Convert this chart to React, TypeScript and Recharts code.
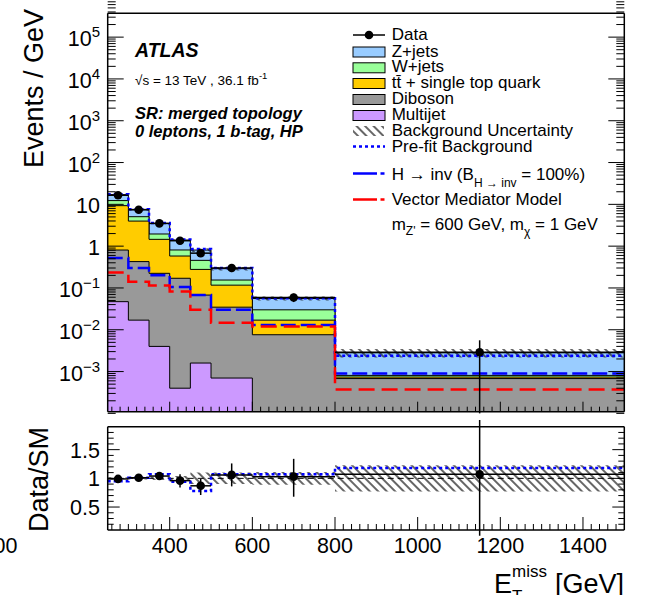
import React from 'react';
import { ComposedChart, Area, Line, Scatter, ErrorBar, XAxis, YAxis, ReferenceLine } from 'recharts';

const FONT = '"Liberation Sans", Arial, Helvetica, sans-serif';

// bin edges (GeV)
const edges = [250, 300, 350, 400, 450, 500, 600, 800, 1500];

// post-fit backgrounds, events / GeV
const multijet = [0.047, 0.017, 0.004, 0.0004, 0.0016, 0.0007, 0, 0];
const diboson = [0.76, 0.41, 0.22, 0.17, 0.066, 0.034, 0.0076, 0.00068];
const ttbar = [8.5, 3.55, 1.23, 0.41, 0.21, 0.082, 0.0094, 0.00006];
const wjets = [3.0, 1.09, 0.5, 0.23, 0.18, 0.038, 0.013, 0.00007];
const zjets = [4.8, 2.53, 1.55, 0.59, 0.35, 0.135, 0.026, 0.002];

const prefit = [17.5, 7.6, 3.6, 1.45, 0.85, 0.3, 0.057, 0.0024];
const hinv = [0.52, 0.3, 0.2, 0.106, 0.068, 0.03, 0.013, 0.0009];
const vmm = [0.234, 0.14, 0.115, 0.082, 0.03, 0.0148, 0.012, 0.00037];

const data = [16.5, 7.4, 3.5, 1.35, 0.68, 0.3, 0.059, 0.0029];
const dataErrLo = [0.5, 0.3, 0.2, 0.16, 0.12, 0.06, 0.013, 0.0028];
const dataErrHi = [0.5, 0.3, 0.2, 0.15, 0.12, 0.06, 0.014, 0.0027];

// ratio panel
const ratioData = [0.99, 1.01, 1.04, 0.96, 0.87, 1.06, 1.03, 1.07];
const ratioErrLo = [0.03, 0.04, 0.05, 0.12, 0.16, 0.2, 0.35, 1.07];
const ratioErrHi = [0.03, 0.04, 0.05, 0.11, 0.12, 0.2, 0.31, 0.95];
const ratioPrefit = [0.95, 1.01, 1.07, 0.94, 0.78, 1.07, 1.07, 1.18];
const bkgUnc = [0.02, 0.02, 0.03, 0.04, 0.1, 0.1, 0.11, 0.23];

// axis ticks
const xMajor = [400, 600, 800, 1000, 1200, 1400];
const xTicks = Array.from({ length: 62 }, (_, i) => 260 + i * 20);
const yDecades = [-3, -2, -1, 0, 1, 2, 3, 4, 5];
const yMajor = yDecades.map((e) => Math.pow(10, e));
const yTicks = [-4, ...yDecades].flatMap((e) => [1, 2, 3, 4, 5, 6, 7, 8, 9].map((m) => m * Math.pow(10, e)));
const rMajor = [0.5, 1, 1.5];
const rTicks = Array.from({ length: 17 }, (_, i) => +(0.2 + i * 0.1).toFixed(1));

const yMin = Math.pow(10, -3.96);
const yMax = Math.pow(10, 5.57);
const FLOOR = 1e-8;

const C = {
  z: '#99ccff',
  w: '#99ff99',
  tt: '#ffcc00',
  db: '#999999',
  mj: '#cc99ff',
};

const nb = edges.length - 1;
const mainRows = edges.map((x, k) => {
  const i = Math.min(k, nb - 1);
  const mjTop = multijet[i];
  const dbTop = mjTop + diboson[i];
  const ttTop = dbTop + ttbar[i];
  const wTop = ttTop + wjets[i];
  const zTop = wTop + zjets[i];
  return {
    x,
    mj: mjTop > 0 ? mjTop : FLOOR,
    db: dbTop,
    tt: ttTop,
    w: wTop,
    z: zTop,
    band: [zTop * (1 - bkgUnc[i]), zTop * (1 + bkgUnc[i])],
    prefit: prefit[i],
    hinv: hinv[i],
    vmm: vmm[i],
  };
});

const centers = edges.slice(0, nb).map((e, i) => (e + edges[i + 1]) / 2);
const halfW = edges.slice(0, nb).map((e, i) => (edges[i + 1] - e) / 2);

const mainPoints = centers.map((x, i) => ({ x, y: data[i], ex: halfW[i], ey: [dataErrLo[i], dataErrHi[i]] }));

const ratioRows = edges.map((x, k) => {
  const i = Math.min(k, nb - 1);
  return { x, band: [1 - bkgUnc[i], 1 + bkgUnc[i]], prefit: ratioPrefit[i] };
});
const ratioPoints = centers.map((x, i) => ({ x, y: ratioData[i], ex: halfW[i], ey: [ratioErrLo[i], ratioErrHi[i]] }));

const near = (v: number, arr: number[]) => arr.some((m) => Math.abs(m - v) <= Math.abs(m) * 1e-6);

type Side = 'bottom' | 'top' | 'left' | 'right';
const makeTick = (side: Side, majors: number[], majLen: number, minLen: number, label?: (v: number, x: number, y: number) => React.ReactNode) =>
  (props: any) => {
    const { x, y, payload } = props;
    const v = payload.value;
    const major = near(v, majors);
    const len = major ? majLen : minLen;
    let x2 = x;
    let y2 = y;
    if (side === 'bottom') y2 = y - len;
    if (side === 'top') y2 = y + len;
    if (side === 'left') x2 = x + len;
    if (side === 'right') x2 = x - len;
    return (
      <g>
        <line x1={x} y1={y} x2={x2} y2={y2} stroke="#000" strokeWidth={1} />
        {major && label ? label(v, x, y) : null}
      </g>
    );
  };

const logLabel = (v: number, x: number, y: number) => {
  const e = Math.round(Math.log10(v));
  const style = { fontFamily: FONT, fontSize: 21.5, fill: '#000' };
  if (e === 0 || e === 1) {
    return <text x={x - 7.7} y={y + 9} textAnchor="end" style={style}>{e === 0 ? '1' : '10'}</text>;
  }
  return (
    <text x={x - 7.7} y={y + 9} textAnchor="end" style={style}>
      10<tspan dy={-9} fontSize={15}>{e < 0 ? '\u2212' + -e : String(e)}</tspan>
    </text>
  );
};

const ratioYLabel = (v: number, x: number, y: number) => (
  <text x={x - 7.7} y={y + 8} textAnchor="end" style={{ fontFamily: FONT, fontSize: 21.5, fill: '#000' }}>{String(v)}</text>
);

const ratioXLabel = (v: number, x: number, y: number) => (
  <text x={x} y={y + 22.5} textAnchor="middle" style={{ fontFamily: FONT, fontSize: 21.5, fill: '#000' }}>{String(v)}</text>
);

const axisLine = { stroke: '#000', strokeWidth: 1.5 };
const Dot = (p: any) => <circle cx={p.cx} cy={p.cy} r={4.3} fill="#000" />;

const LegendBox = ({ y, color, label }: { y: number; color: string; label: React.ReactNode }) => (
  <g>
    <rect x={353} y={y - 9.5} width={32} height={10} fill={color} stroke="#000" strokeWidth={1} />
    <text x={391.7} y={y}>{label}</text>
  </g>
);

export default function App() {
  return (
    <div style={{ position: 'absolute', left: 0, top: 0, width: 646, height: 595, background: '#fff', overflow: 'hidden', fontFamily: FONT }}>
      <svg width={0} height={0} style={{ position: 'absolute' }}>
        <defs>
          <pattern id="hatch" width={6} height={6} patternUnits="userSpaceOnUse" patternTransform="rotate(-45)">
            <line x1={1} y1={0} x2={1} y2={6} stroke="#000" strokeWidth={1.2} />
          </pattern>
        </defs>
      </svg>

      <div style={{ position: 'absolute', left: 0, top: 0 }}>
        <ComposedChart width={646} height={420} data={mainRows} margin={{ top: 12.3, right: 20.7, bottom: 7.3, left: 106.7 }}>
          <Area dataKey="z" type="stepAfter" fill={C.z} fillOpacity={1} stroke="#000" strokeWidth={1} baseValue={yMin} isAnimationActive={false} />
          <Area dataKey="w" type="stepAfter" fill={C.w} fillOpacity={1} stroke="#000" strokeWidth={1} baseValue={yMin} isAnimationActive={false} />
          <Area dataKey="tt" type="stepAfter" fill={C.tt} fillOpacity={1} stroke="#000" strokeWidth={1} baseValue={yMin} isAnimationActive={false} />
          <Area dataKey="db" type="stepAfter" fill={C.db} fillOpacity={1} stroke="#000" strokeWidth={1} baseValue={yMin} isAnimationActive={false} />
          <Area dataKey="mj" type="stepAfter" fill={C.mj} fillOpacity={1} stroke="#000" strokeWidth={1} baseValue={yMin} isAnimationActive={false} />
          <Area dataKey="band" type="stepAfter" fill="url(#hatch)" fillOpacity={1} stroke="none" isAnimationActive={false} />
          <Line dataKey="prefit" type="stepAfter" stroke="#0000ff" strokeWidth={2.5} strokeDasharray="3 3" dot={false} isAnimationActive={false} />
          <Line dataKey="hinv" type="stepAfter" stroke="#0000ff" strokeWidth={2.5} strokeDasharray="15 5" dot={false} isAnimationActive={false} />
          <Line dataKey="vmm" type="stepAfter" stroke="#ff0000" strokeWidth={2.5} strokeDasharray="16 7" dot={false} isAnimationActive={false} />
          <Scatter data={mainPoints} dataKey="y" shape={Dot} isAnimationActive={false}>
            <ErrorBar dataKey="ey" direction="y" width={0} stroke="#000" strokeWidth={1.5} />
            <ErrorBar dataKey="ex" direction="x" width={0} stroke="#000" strokeWidth={1.5} />
          </Scatter>
          <XAxis dataKey="x" type="number" domain={[250, 1500]} allowDataOverflow ticks={xTicks} interval={0} height={1}
            tickLine={false} tickSize={0} tickMargin={0} axisLine={axisLine} tick={makeTick('bottom', xMajor, 10, 5)} />
          <XAxis xAxisId="top" orientation="top" type="number" domain={[250, 1500]} allowDataOverflow ticks={xTicks} interval={0} height={1}
            tickLine={false} tickSize={0} tickMargin={0} axisLine={axisLine} tick={makeTick('top', xMajor, 10, 5)} />
          <YAxis type="number" scale="log" domain={[yMin, yMax]} allowDataOverflow ticks={yTicks} interval={0} width={1}
            tickLine={false} tickSize={0} tickMargin={0} axisLine={axisLine} tick={makeTick('left', yMajor, 16, 8, logLabel)} />
          <YAxis yAxisId="right" orientation="right" type="number" scale="log" domain={[yMin, yMax]} allowDataOverflow ticks={yTicks} interval={0} width={1}
            tickLine={false} tickSize={0} tickMargin={0} axisLine={axisLine} tick={makeTick('right', yMajor, 16, 8)} />
        </ComposedChart>
      </div>

      <div style={{ position: 'absolute', left: 0, top: 420 }}>
        <ComposedChart width={646} height={175} data={ratioRows} margin={{ top: 5.7, right: 20.7, bottom: 64, left: 106.7 }}>
          <Area dataKey="band" type="stepAfter" fill="url(#hatch)" fillOpacity={1} stroke="none" isAnimationActive={false} />
          <ReferenceLine y={1} stroke="#000" strokeWidth={1} strokeDasharray="6 4" />
          <Line dataKey="prefit" type="stepAfter" stroke="#0000ff" strokeWidth={2.5} strokeDasharray="3 3" dot={false} isAnimationActive={false} />
          <Scatter data={ratioPoints} dataKey="y" shape={Dot} isAnimationActive={false}>
            <ErrorBar dataKey="ey" direction="y" width={0} stroke="#000" strokeWidth={1.5} />
            <ErrorBar dataKey="ex" direction="x" width={0} stroke="#000" strokeWidth={1.5} />
          </Scatter>
          <XAxis dataKey="x" type="number" domain={[250, 1500]} allowDataOverflow ticks={xTicks} interval={0} height={1}
            tickLine={false} tickSize={0} tickMargin={0} axisLine={axisLine} tick={makeTick('bottom', xMajor, 13, 6, ratioXLabel)} />
          <XAxis xAxisId="top" orientation="top" type="number" domain={[250, 1500]} allowDataOverflow ticks={xTicks} interval={0} height={1}
            tickLine={false} tickSize={0} tickMargin={0} axisLine={axisLine} tick={makeTick('top', xMajor, 13, 6)} />
          <YAxis type="number" domain={[0.1, 1.9]} allowDataOverflow ticks={rTicks} interval={0} width={1}
            tickLine={false} tickSize={0} tickMargin={0} axisLine={axisLine} tick={makeTick('left', rMajor, 12, 6, ratioYLabel)} />
          <YAxis yAxisId="right" orientation="right" type="number" domain={[0.1, 1.9]} allowDataOverflow ticks={rTicks} interval={0} width={1}
            tickLine={false} tickSize={0} tickMargin={0} axisLine={axisLine} tick={makeTick('right', rMajor, 12, 6)} />
        </ComposedChart>
      </div>

      <svg width={646} height={595} style={{ position: 'absolute', left: 0, top: 0, pointerEvents: 'none' }}>
        <g style={{ fontFamily: FONT, fill: '#000' }}>
          <text transform="translate(42.5, 9) rotate(-90)" textAnchor="end" fontSize={27}>Events / GeV</text>
          <text transform="translate(47.5, 427) rotate(-90)" textAnchor="end" fontSize={27}>Data/SM</text>
          <text x={17.5} y={552.5} textAnchor="end" fontSize={21.5}>00</text>

          <text x={494} y={592.5} fontSize={27}>E</text>
          <text x={512} y={577} fontSize={17}>miss</text>
          <text x={512} y={602} fontSize={17}>T</text>
          <text x={624} y={592.5} textAnchor="end" fontSize={27}>[GeV]</text>

          <text x={135} y={57} fontSize={19.5} fontWeight="bold" fontStyle="italic">ATLAS</text>
          <text x={135} y={84.5} fontSize={13.5}>
            √s = 13 TeV , 36.1 fb<tspan dy={-6} fontSize={9.5}>-1</tspan>
          </text>
          <text x={135} y={119} fontSize={16.5} fontWeight="bold" fontStyle="italic">SR: merged topology</text>
          <text x={135} y={136.5} fontSize={16.5} fontWeight="bold" fontStyle="italic">0 leptons, 1 b-tag, HP</text>

          <g fontSize={17}>
            <line x1={353} y1={35} x2={385} y2={35} stroke="#000" strokeWidth={1.5} />
            <circle cx={369} cy={35} r={4.3} fill="#000" />
            <text x={391.7} y={40}>Data</text>
            <LegendBox y={56.5} color={C.z} label="Z+jets" />
            <LegendBox y={72.3} color={C.w} label="W+jets" />
            <LegendBox y={88} color={C.tt} label={'tt\u0304 + single top quark'} />
            <LegendBox y={104} color={C.db} label="Diboson" />
            <LegendBox y={120} color={C.mj} label="Multijet" />
            <rect x={353} y={126} width={31} height={10} fill="url(#hatch)" />
            <text x={391.7} y={135.5}>Background Uncertainty</text>
            <line x1={353} y1={146.5} x2={385} y2={146.5} stroke="#0000ff" strokeWidth={2.5} strokeDasharray="3 3" />
            <text x={391.7} y={151.5}>Pre-fit Background</text>
            <line x1={353} y1={173.5} x2={385} y2={173.5} stroke="#0000ff" strokeWidth={2.5} strokeDasharray="24 3.5 4 100" />
            <text x={391.7} y={179.5}>
              H → inv (B<tspan dy={7.5} fontSize={12}>H → inv</tspan><tspan dy={-7.5}> = 100%)</tspan>
            </text>
            <line x1={353} y1={199.5} x2={385} y2={199.5} stroke="#ff0000" strokeWidth={2.5} strokeDasharray="24 3.5 4 100" />
            <text x={391.7} y={205}>Vector Mediator Model</text>
            <text x={391.7} y={230}>
              m<tspan dy={5} fontSize={12}>Z'</tspan><tspan dy={-5}> = 600 GeV, m</tspan><tspan dy={6} fontSize={12}>χ</tspan><tspan dy={-6}> = 1 GeV</tspan>
            </text>
          </g>
        </g>
      </svg>
    </div>
  );
}
